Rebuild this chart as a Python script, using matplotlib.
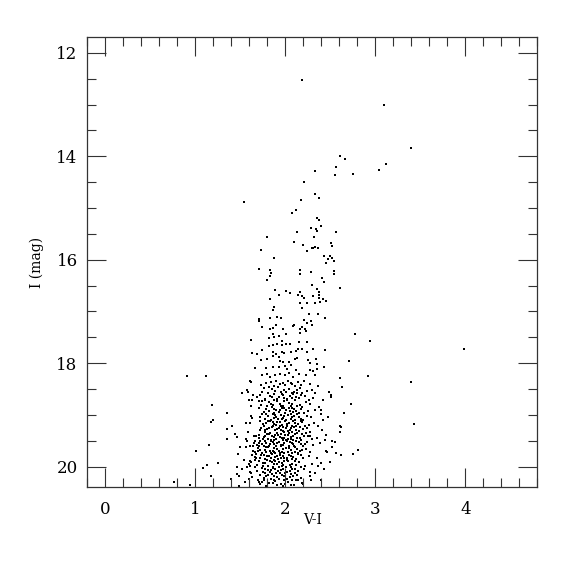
import matplotlib
matplotlib.use("Agg")
import matplotlib.pyplot as plt
from matplotlib.ticker import MultipleLocator

plt.rcParams['font.family'] = ['DejaVu Serif']

# Sparse upper giant branch / bright stars (V-I, I)
upper_vi = [2.186, 3.101, 3.393, 2.613, 2.668, 3.119, 2.568, 3.041, 2.331, 2.557, 2.757, 2.213,
            2.335, 2.375, 2.172, 1.539, 2.120, 2.072, 2.353, 2.380, 2.394, 2.291, 2.342, 2.350,
            2.135, 2.561, 1.795, 2.324]
upper_i = [12.52, 13.01, 13.84, 13.99, 14.05, 14.15, 14.20, 14.27, 14.29, 14.36, 14.35, 14.50,
           14.72, 14.80, 14.85, 14.89, 15.04, 15.09, 15.19, 15.24, 15.34, 15.39, 15.41, 15.45,
           15.46, 15.46, 15.57, 15.57]

# Middle branch (I ~ 15.6 - 17.4)
mid_vi = [2.098, 2.202, 2.508, 2.516, 2.294, 2.305, 2.335, 2.368, 1.731, 2.239, 1.872, 2.427,
          2.494, 2.519, 2.475, 2.546, 2.453, 1.703, 1.828, 1.839, 1.828, 1.802, 2.158, 2.164,
          2.283, 2.546, 2.538, 2.405, 2.431, 2.302, 2.608, 2.357, 2.380, 2.380, 1.891, 2.009,
          2.050, 2.169, 1.928, 2.139, 2.191, 2.205, 2.313, 2.380, 2.416, 2.457, 1.825, 2.158,
          2.242, 2.327, 2.391, 1.872, 1.858, 2.183, 2.269, 2.361, 1.825, 1.906, 1.950, 2.446,
          1.703, 1.706, 2.213, 2.283, 2.239, 2.294, 1.895, 2.094, 2.083, 1.736, 1.825, 1.865,
          1.972, 2.164, 2.191, 2.224]
mid_i = [15.66, 15.72, 15.68, 15.73, 15.78, 15.77, 15.75, 15.77, 15.81, 15.84, 15.96, 15.93,
         15.93, 15.96, 15.99, 16.03, 16.06, 16.17, 16.20, 16.26, 16.32, 16.40, 16.19, 16.27,
         16.23, 16.22, 16.28, 16.36, 16.43, 16.49, 16.54, 16.57, 16.62, 16.68, 16.59, 16.60,
         16.65, 16.62, 16.68, 16.69, 16.70, 16.74, 16.70, 16.74, 16.75, 16.80, 16.75, 16.84,
         16.84, 16.84, 16.82, 16.91, 16.98, 16.93, 17.04, 17.04, 17.12, 17.10, 17.12, 17.12,
         17.14, 17.19, 17.17, 17.18, 17.22, 17.26, 17.26, 17.26, 17.29, 17.31, 17.33, 17.32,
         17.33, 17.34, 17.31, 17.33]

# Lower branch (I ~ 17.3 - 18.35)
low_vi = [1.617, 1.861, 1.820, 1.925, 1.876, 2.013, 2.161, 2.228, 1.958, 2.013, 1.906, 1.858,
          1.969, 2.050, 2.150, 2.239, 1.817, 1.632, 1.691, 1.736, 1.861, 1.902, 1.869, 1.925,
          1.964, 1.991, 2.061, 2.117, 2.146, 2.186, 2.242, 2.309, 2.438, 1.728, 1.802, 1.939,
          1.976, 2.039, 2.105, 2.135, 2.253, 2.272, 2.346, 2.353, 1.661, 1.787, 1.865, 1.928,
          1.994, 2.020, 2.069, 2.124, 2.272, 2.313, 2.353, 2.431, 1.121, 1.736, 1.795, 1.828,
          1.883, 1.939, 1.998, 2.042, 2.087, 2.153, 2.235, 2.331, 1.606]
low_i = [17.55, 17.43, 17.52, 17.47, 17.49, 17.44, 17.42, 17.37, 17.57, 17.62, 17.62, 17.64,
         17.65, 17.63, 17.60, 17.60, 17.66, 17.80, 17.83, 17.75, 17.79, 17.83, 17.87, 17.89,
         17.78, 17.81, 17.78, 17.77, 17.72, 17.73, 17.78, 17.72, 17.75, 17.94, 17.91, 17.96,
         17.98, 17.98, 17.92, 17.90, 17.94, 17.99, 17.91, 18.01, 18.10, 18.09, 18.07, 18.07,
         18.05, 18.11, 18.04, 18.13, 18.13, 18.16, 18.11, 18.07, 18.25, 18.23, 18.21, 18.27,
         18.23, 18.21, 18.22, 18.19, 18.26, 18.20, 18.23, 18.22, 18.35]

# Blue and red field stars / outliers
field_vi = [0.910, 1.007, 1.088, 0.762, 0.940, 2.771, 2.938, 3.985, 2.705, 2.605, 2.919, 3.393,
            2.630, 2.727, 2.649, 2.605, 2.616, 3.434, 2.605, 2.805, 2.757, 2.616]
field_i = [18.25, 19.70, 20.03, 20.29, 20.35, 17.44, 17.58, 17.73, 17.96, 18.29, 18.24, 18.36,
           18.47, 18.79, 18.97, 19.21, 19.24, 19.18, 19.33, 19.67, 19.76, 19.77]

# Blue edge of the faint clump
blue_vi = [1.614, 1.514, 1.573, 1.584, 1.639, 1.684, 1.592, 1.628, 1.709, 1.184, 1.617, 1.347,
           1.173, 1.199, 1.620, 1.628, 1.569, 1.606, 1.406, 1.347, 1.714, 1.587, 1.440, 1.469,
           1.647, 1.673, 1.347, 1.569, 1.706, 1.665, 1.654, 1.148, 1.498, 1.569, 1.606, 1.643,
           1.703, 1.709, 1.643, 1.665, 1.473, 1.698, 1.632, 1.680, 1.673, 1.661, 1.606, 1.620,
           1.543, 1.251, 1.132, 1.462, 1.580, 1.603, 1.665, 1.687, 1.606, 1.617, 1.465, 1.487,
           1.170, 1.395, 1.595, 1.698, 1.706, 1.484,
           1.66, 1.60, 1.69, 1.63, 1.55, 1.69, 1.58, 1.52]
blue_i = [18.36, 18.57, 18.52, 18.55, 18.61, 18.65, 18.71, 18.72, 18.74, 18.80, 18.83, 18.96,
          19.13, 19.10, 19.03, 19.06, 19.16, 19.15, 19.22, 19.28, 19.30, 19.34, 19.37, 19.42,
          19.41, 19.40, 19.46, 19.47, 19.45, 19.51, 19.55, 19.58, 19.62, 19.62, 19.61, 19.61,
          19.54, 19.60, 19.69, 19.72, 19.75, 19.69, 19.78, 19.75, 19.84, 19.87, 19.89, 19.92,
          19.87, 19.93, 19.97, 20.01, 20.01, 19.99, 20.00, 19.97, 20.10, 20.12, 20.15, 20.19,
          20.19, 20.23, 20.24, 20.26, 20.29, 20.37,
          19.82, 19.95, 20.08, 20.20, 20.30, 19.58, 19.50, 20.05]

# Red edge of the faint clump
red_vi = [2.549, 2.516, 2.560, 2.453, 2.468, 2.494, 2.394, 2.364, 2.405, 2.394, 2.402, 2.483,
          2.508, 2.513, 2.327, 2.269, 2.420, 2.442, 2.350, 2.272, 2.283, 2.198, 2.142,
          2.36, 2.42, 2.38, 2.47, 2.36, 2.45, 2.39, 2.52, 2.35, 2.43, 2.33, 2.40]
red_i = [19.52, 19.51, 19.73, 19.69, 19.72, 19.91, 19.93, 19.99, 19.29, 18.90, 18.98, 18.56,
         18.65, 18.61, 18.58, 18.71, 19.10, 19.48, 19.45, 20.19, 20.26, 20.33, 20.26,
         18.45, 18.72, 18.85, 19.05, 19.22, 19.38, 19.55, 19.62, 19.83, 20.05, 20.12, 20.25]

# Dense faint core (I ~ 18.3 - 20.4)
core = [
    (1.84, 18.36), (1.90, 18.34), (1.97, 18.39), (2.03, 18.35), (2.08, 18.41), (2.14, 18.37),
    (2.21, 18.34), (1.73, 18.42), (1.88, 18.44), (2.00, 18.43), (2.11, 18.45), (2.27, 18.40),
    (1.76, 18.48), (1.85, 18.50), (1.92, 18.47), (1.99, 18.52), (2.04, 18.49), (2.10, 18.55),
    (2.16, 18.48), (2.24, 18.53), (1.81, 18.57), (1.95, 18.56), (2.07, 18.58), (2.19, 18.57),
    (2.30, 18.51), (1.72, 18.61), (1.83, 18.63), (1.87, 18.60), (1.93, 18.66), (1.98, 18.62),
    (2.05, 18.64), (2.09, 18.60), (2.15, 18.68), (2.22, 18.63), (1.78, 18.69), (1.91, 18.70),
    (2.02, 18.69), (2.12, 18.66), (2.31, 18.67), (1.74, 18.73), (1.82, 18.76), (1.88, 18.72),
    (1.94, 18.78), (1.99, 18.74), (2.04, 18.77), (2.11, 18.72), (2.16, 18.80), (2.23, 18.75),
    (1.80, 18.82), (1.86, 18.81), (1.97, 18.83), (2.06, 18.82), (2.13, 18.83), (2.28, 18.79),
    (1.71, 18.86), (1.79, 18.88), (1.85, 18.85), (1.90, 18.91), (1.96, 18.87), (2.01, 18.90),
    (2.07, 18.86), (2.12, 18.93), (2.18, 18.88), (2.25, 18.92), (1.76, 18.95), (1.88, 18.96),
    (1.93, 18.94), (2.00, 18.96), (2.09, 18.95), (2.15, 18.96), (2.33, 18.90), (1.74, 18.99),
    (1.81, 19.02), (1.86, 18.98), (1.90, 19.04), (1.95, 19.00), (1.98, 19.06), (2.03, 19.01),
    (2.08, 19.05), (2.13, 18.99), (2.17, 19.07), (2.24, 19.03), (1.78, 19.08), (1.84, 19.09),
    (1.92, 19.08), (2.01, 19.09), (2.06, 19.08), (2.11, 19.09), (2.20, 19.09), (2.29, 19.05),
    (1.72, 19.12), (1.79, 19.15), (1.83, 19.11), (1.88, 19.17), (1.91, 19.13), (1.96, 19.19),
    (2.00, 19.12), (2.04, 19.16), (2.09, 19.12), (2.14, 19.18), (2.19, 19.14), (2.26, 19.20),
    (1.76, 19.21), (1.86, 19.22), (1.94, 19.22), (2.02, 19.21), (2.07, 19.22), (2.12, 19.21),
    (2.22, 19.22), (2.32, 19.16), (1.73, 19.25), (1.80, 19.28), (1.85, 19.24), (1.89, 19.30),
    (1.93, 19.26), (1.97, 19.32), (2.01, 19.25), (2.05, 19.29), (2.10, 19.24), (2.15, 19.31),
    (2.20, 19.27), (2.27, 19.33), (1.77, 19.34), (1.83, 19.35), (1.91, 19.35), (1.99, 19.34),
    (2.04, 19.35), (2.08, 19.34), (2.13, 19.35), (2.23, 19.35), (1.71, 19.38), (1.78, 19.41),
    (1.82, 19.37), (1.87, 19.43), (1.92, 19.39), (1.96, 19.45), (2.00, 19.38), (2.06, 19.42),
    (2.11, 19.37), (2.16, 19.44), (2.21, 19.40), (2.30, 19.46), (1.75, 19.47), (1.84, 19.48),
    (1.90, 19.47), (1.98, 19.48), (2.03, 19.47), (2.09, 19.48), (2.18, 19.48), (2.25, 19.41),
    (1.72, 19.51), (1.79, 19.54), (1.84, 19.50), (1.88, 19.56), (1.93, 19.52), (1.97, 19.58),
    (2.02, 19.51), (2.07, 19.55), (2.12, 19.50), (2.17, 19.57), (2.24, 19.53), (1.76, 19.60),
    (1.82, 19.61), (1.90, 19.60), (1.95, 19.61), (2.04, 19.60), (2.10, 19.61), (2.20, 19.60),
    (2.31, 19.58), (1.70, 19.64), (1.77, 19.67), (1.81, 19.63), (1.86, 19.69), (1.91, 19.65),
    (1.96, 19.71), (2.01, 19.64), (2.06, 19.68), (2.11, 19.63), (2.16, 19.70), (2.23, 19.66),
    (1.74, 19.73), (1.84, 19.74), (1.89, 19.73), (1.99, 19.74), (2.08, 19.73), (2.14, 19.74),
    (2.28, 19.71), (1.73, 19.77), (1.80, 19.80), (1.85, 19.76), (1.89, 19.82), (1.94, 19.78),
    (1.99, 19.84), (2.04, 19.77), (2.09, 19.81), (2.14, 19.76), (2.20, 19.83), (1.77, 19.86),
    (1.87, 19.87), (1.92, 19.86), (2.02, 19.87), (2.12, 19.86), (2.26, 19.80), (1.71, 19.90),
    (1.78, 19.93), (1.83, 19.89), (1.88, 19.95), (1.93, 19.91), (1.98, 19.97), (2.03, 19.90),
    (2.08, 19.94), (2.15, 19.92), (2.22, 19.98), (1.75, 19.99), (1.86, 20.00), (1.96, 19.99),
    (2.06, 20.00), (2.30, 19.95), (1.74, 20.03), (1.81, 20.06), (1.86, 20.02), (1.92, 20.08),
    (1.97, 20.04), (2.02, 20.10), (2.08, 20.05), (2.14, 20.09), (2.21, 20.04), (1.78, 20.12),
    (1.90, 20.13), (2.00, 20.12), (2.11, 20.13), (2.27, 20.11), (1.72, 20.16), (1.79, 20.19),
    (1.85, 20.15), (1.91, 20.21), (1.96, 20.17), (2.02, 20.23), (2.09, 20.18), (2.17, 20.22),
    (1.76, 20.25), (1.88, 20.26), (1.99, 20.25), (2.12, 20.26), (1.74, 20.29), (1.82, 20.32),
    (1.89, 20.28), (1.95, 20.34), (2.03, 20.30), (2.10, 20.36), (1.79, 20.37), (1.98, 20.38),
    (2.19, 20.31),
    # second pass through the densest part
    (1.79, 18.38), (1.94, 18.40), (2.06, 18.38), (2.17, 18.43), (1.82, 18.46), (2.13, 18.51),
    (1.89, 18.54), (2.01, 18.55), (1.74, 18.56), (2.13, 18.58), (1.96, 18.60), (1.85, 18.65),
    (2.07, 18.67), (2.18, 18.62), (1.99, 18.68), (1.77, 18.71), (1.91, 18.74), (2.02, 18.72),
    (2.08, 18.79), (1.84, 18.79), (1.95, 18.82), (2.19, 18.84), (1.73, 18.81), (2.04, 18.86),
    (1.88, 18.88), (1.99, 18.87), (2.10, 18.89), (1.82, 18.92), (1.94, 18.91), (2.05, 18.93),
    (2.21, 18.96), (1.79, 18.99), (1.89, 19.00), (1.99, 19.02), (2.10, 19.02), (2.06, 18.98),
    (1.72, 19.05), (1.87, 19.06), (1.96, 19.08), (2.15, 19.04), (1.81, 19.12), (1.86, 19.14),
    (1.94, 19.14), (2.02, 19.18), (2.11, 19.16), (2.17, 19.12), (1.75, 19.17), (1.90, 19.20),
    (1.98, 19.23), (2.06, 19.26), (1.82, 19.26), (1.91, 19.27), (2.16, 19.24), (2.24, 19.26),
    (1.78, 19.30), (1.95, 19.29), (2.03, 19.31), (2.12, 19.29), (1.80, 19.37), (1.89, 19.38),
    (1.95, 19.37), (2.03, 19.39), (2.09, 19.41), (2.19, 19.36), (1.76, 19.43), (1.85, 19.41),
    (1.94, 19.42), (1.99, 19.44), (2.13, 19.45), (2.27, 19.40), (1.81, 19.46), (1.88, 19.49),
    (2.01, 19.49), (2.06, 19.46), (1.77, 19.51), (1.86, 19.53), (1.91, 19.55), (1.99, 19.54),
    (2.05, 19.52), (2.15, 19.53), (1.74, 19.57), (1.83, 19.57), (1.95, 19.58), (2.09, 19.57),
    (2.22, 19.56), (1.79, 19.63), (1.88, 19.64), (1.98, 19.66), (2.04, 19.64), (2.13, 19.66),
    (1.72, 19.68), (1.83, 19.69), (1.93, 19.69), (2.19, 19.68), (1.79, 19.72), (1.87, 19.72),
    (1.94, 19.74), (2.03, 19.72), (2.11, 19.71), (1.76, 19.78), (1.82, 19.79), (1.91, 19.79),
    (1.97, 19.80), (2.06, 19.79), (2.17, 19.78), (1.72, 19.83), (1.84, 19.84), (1.95, 19.84),
    (2.02, 19.84), (2.08, 19.86), (1.80, 19.88), (1.89, 19.89), (1.99, 19.90), (2.11, 19.89),
    (1.75, 19.93), (1.85, 19.92), (1.91, 19.95), (1.96, 19.93), (2.05, 19.96), (2.12, 19.97),
    (1.81, 19.98), (1.93, 20.00), (2.01, 20.01), (2.18, 20.00), (1.77, 20.05), (1.84, 20.07),
    (1.89, 20.04), (1.95, 20.07), (2.05, 20.08), (2.11, 20.05), (1.75, 20.10), (1.83, 20.11),
    (1.94, 20.12), (2.06, 20.14), (1.81, 20.17), (1.88, 20.19), (1.99, 20.19), (2.05, 20.21),
    (2.13, 20.17), (1.76, 20.22), (1.84, 20.24), (1.93, 20.24), (2.07, 20.26), (1.86, 20.31),
    (1.91, 20.36), (2.00, 20.33), (2.06, 20.35), (1.72, 20.34),
]
core_vi = [p[0] for p in core]
core_i = [p[1] for p in core]

x_ticks = [0, 1, 2, 3, 4]
y_ticks = [12, 14, 16, 18, 20]

fig = plt.figure(figsize=(5.75, 5.75), dpi=100)
ax = fig.add_axes([0.1518, 0.1525, 0.7826, 0.7826])

all_vi = upper_vi + mid_vi + low_vi + field_vi + blue_vi + red_vi + core_vi
all_i = upper_i + mid_i + low_i + field_i + blue_i + red_i + core_i
ax.scatter(all_vi, all_i, s=2.8, c='black', marker='s', linewidths=0)

ax.set_xlim(-0.2, 4.8)
ax.set_ylim(20.4, 11.7)
ax.set_xticks(x_ticks)
ax.set_yticks(y_ticks)
ax.xaxis.set_minor_locator(MultipleLocator(0.2))
ax.yaxis.set_minor_locator(MultipleLocator(0.5))
ax.tick_params(which='both', direction='in', top=True, right=True, width=0.8, color='#333333')
ax.tick_params(which='major', length=13.4, labelsize=12)
ax.tick_params(which='minor', length=6.7)
ax.tick_params(axis='x', which='major', pad=10)
ax.tick_params(axis='y', which='major', pad=7)
for s in ax.spines.values():
    s.set_linewidth(0.9)
    s.set_color('#333333')

ax.set_xlabel('V-I', fontsize=10, labelpad=-4)
ax.set_ylabel('I (mag)', fontsize=10, labelpad=9)

fig.savefig('out.png', dpi=100)
